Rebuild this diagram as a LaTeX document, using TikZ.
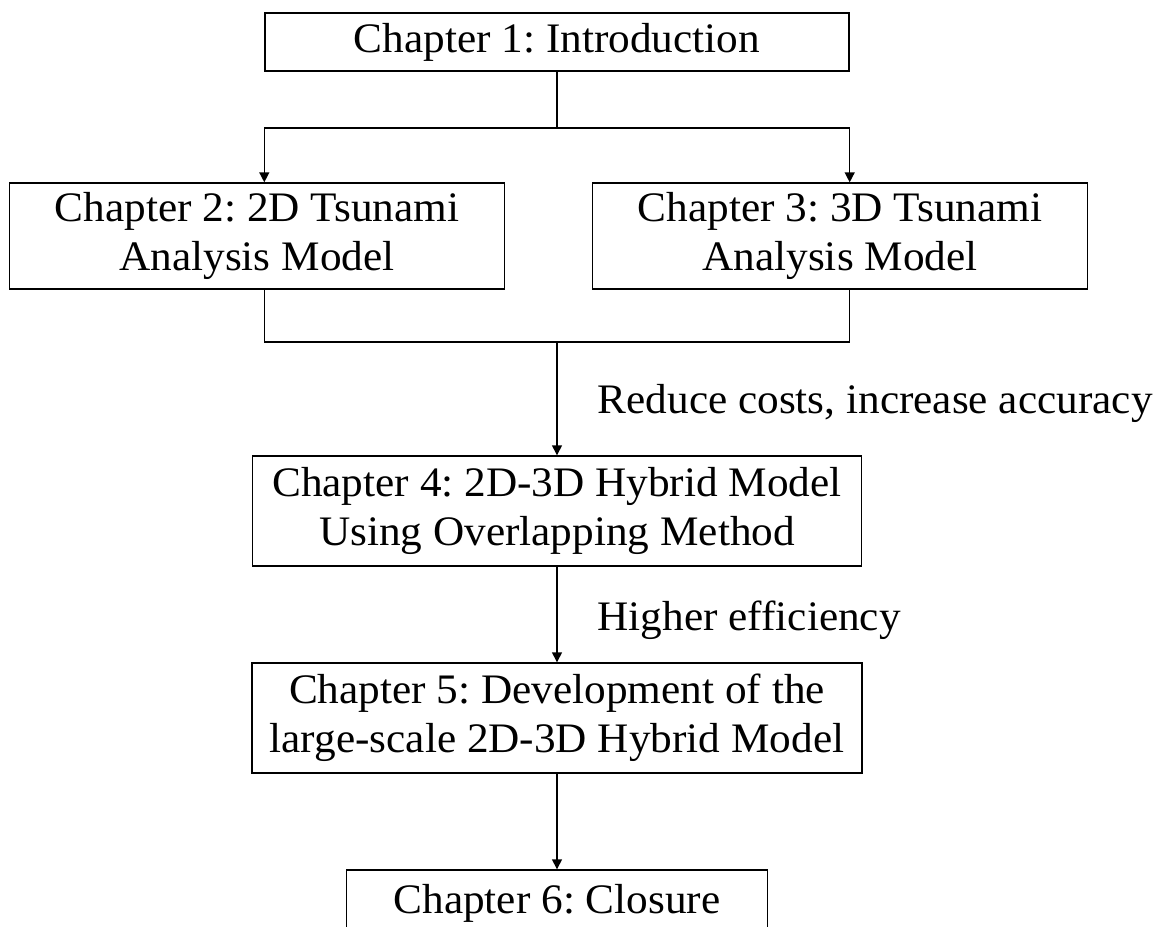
\documentclass[tikz,border=0pt]{standalone}
\usepackage{fontspec}
\setmainfont{Liberation Serif}[FakeStretch=1.03]
\frenchspacing
\usetikzlibrary{arrows.meta}
\begin{document}
\begin{tikzpicture}[x=1pt, y=-1pt, line width=1.4pt,
  every node/.style={inner sep=0pt, font=\fontsize{42}{49}\selectfont},
  chapbox/.style={draw, align=center},
  flow/.style={-{Triangle[width=10pt,length=10pt]}}]
  \clip (0,0) rectangle (1163,927);
  \node[chapbox, minimum width=584pt, minimum height=58pt] (c1) at (557,42) {Chapter 1: Introduction};
  \node[chapbox, minimum width=495pt, minimum height=106pt] (c2) at (257,236) {Chapter 2: 2D Tsunami\\Analysis Model};
  \node[chapbox, minimum width=495pt, minimum height=106pt] (c3) at (840,236) {Chapter 3: 3D Tsunami\\Analysis Model};
  \node[chapbox, minimum width=609pt, minimum height=110pt] (c4) at (557,511) {Chapter 4: 2D-3D Hybrid Model\\Using Overlapping Method};
  \node[chapbox, minimum width=610pt, minimum height=110pt] (c5) at (557,718) {Chapter 5: Development of the\\large-scale 2D-3D Hybrid Model};
  \node[chapbox, minimum width=421pt, minimum height=66pt] (c6) at (557,903) {Chapter 6: Closure};
  \node[anchor=west] (lab1) at (597,403) {Reduce costs, increase accuracy};
  \node[anchor=west] (lab2) at (597,620) {Higher efficiency};
  \coordinate (split) at (557,128);
  \coordinate (merge) at (557,342);
  \draw (c1.south) -- (split);
  \draw[flow] (split) -| (c1.south west |- c2.north);
  \draw[flow] (split) -| (c1.south east |- c3.north);
  \draw (c1.south west |- c2.south) |- (merge) -| (c1.south east |- c3.south);
  \draw[flow] (merge) -- (c4.north);
  \draw[flow] (c4) -- (c5);
  \draw[flow] (c5) -- (c6);
\end{tikzpicture}
\end{document}
